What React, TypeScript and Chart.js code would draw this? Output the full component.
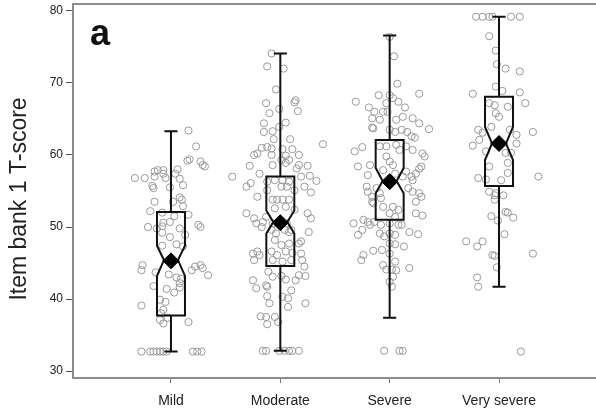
import { useEffect, useRef } from "react";
import { Chart, registerables } from "chart.js";

Chart.register(...registerables);

// Severity groups along the x axis
const categories = ["Mild", "Moderate", "Severe", "Very severe"];
const yTicks = [30, 40, 50, 60, 70, 80];

// Box-plot summaries per group
const whiskerLow = [32.7, 32.8, 37.4, 41.7];
const q1 = [37.7, 44.6, 51.0, 55.7];
const notchLow = [43.2, 49.1, 54.7, 59.3];
const median = [45.4, 50.7, 56.4, 61.6];
const notchHigh = [47.4, 52.3, 58.2, 63.9];
const q3 = [52.1, 57.0, 62.1, 68.1];
const whiskerHigh = [63.3, 74.1, 76.6, 79.2];
const means = [45.3, 50.6, 56.3, 61.6];

// Individual scores: [horizontal jitter (category units), T-score]
const mildPoints: [number, number][] = [
  [0.16, 63.4], [0.23, 61.2], [0.17, 59.4], [0.15, 59.2], [0.27, 59.1], [0.29, 58.6],
  [0.31, 58.4], [0.06, 58.0], [-0.12, 57.9], [-0.07, 57.9], [-0.15, 57.7], [-0.07, 57.4],
  [0.04, 57.4], [-0.33, 56.8], [-0.24, 56.8], [-0.15, 57.0], [-0.05, 56.8], [0.08, 56.7],
  [0.11, 55.8], [-0.17, 55.7], [-0.16, 55.4], [-0.01, 55.5], [-0.15, 53.5], [0.02, 53.5],
  [0.08, 54.1], [0.10, 53.8], [0.11, 52.9], [-0.19, 52.2], [-0.08, 52.0], [0.03, 51.5],
  [0.16, 51.7], [-0.21, 50.0], [-0.13, 49.8], [-0.08, 50.1], [-0.07, 50.6], [-0.01, 50.7],
  [0.08, 49.8], [0.13, 48.9], [-0.01, 48.6], [-0.08, 49.2], [0.25, 50.3], [0.27, 50.0],
  [-0.08, 47.4], [0.05, 47.6], [0.11, 47.3], [-0.26, 44.7], [-0.27, 44.0], [-0.14, 43.7],
  [-0.02, 43.4], [0.05, 43.0], [0.09, 42.8], [0.08, 42.2], [0.19, 44.0], [0.22, 44.5],
  [0.27, 44.7], [0.29, 44.3], [0.34, 43.3], [-0.16, 41.8], [-0.04, 41.4], [0.03, 40.9],
  [0.08, 41.6], [-0.27, 39.1], [-0.10, 39.9], [-0.05, 39.6], [-0.07, 38.5], [-0.09, 38.0],
  [0.16, 36.8], [-0.10, 37.1], [-0.07, 36.6], [-0.03, 37.4],
  [-0.27, 32.7], [-0.19, 32.7], [-0.16, 32.7], [-0.13, 32.7], [-0.10, 32.7], [-0.07, 32.7],
  [-0.04, 32.7], [0.20, 32.7], [0.24, 32.7], [0.28, 32.7],
];

const moderatePoints: [number, number][] = [
  [-0.08, 74.1], [-0.12, 72.3], [0.03, 72.0], [-0.04, 69.1], [0.14, 67.6], [0.13, 67.3],
  [-0.13, 67.2], [-0.01, 66.4], [0.16, 66.1], [-0.10, 65.8], [0.05, 64.5], [-0.15, 64.4],
  [-0.07, 63.3], [-0.01, 63.9], [-0.15, 63.2], [-0.06, 62.2], [0.09, 62.2], [0.39, 61.5],
  [-0.17, 61.0], [-0.12, 61.1], [-0.08, 60.9], [0.02, 60.8], [0.11, 60.8], [-0.24, 60.0],
  [-0.21, 60.2], [-0.08, 60.0], [0.05, 59.9], [0.17, 60.0], [0.01, 59.3], [-0.28, 58.5],
  [-0.07, 58.6], [0.05, 58.9], [0.08, 59.3], [0.15, 58.1], [0.17, 58.6], [0.25, 58.5],
  [-0.44, 57.0], [-0.19, 57.4], [0.19, 57.0], [0.27, 57.1], [0.33, 56.4], [-0.31, 55.6],
  [-0.27, 56.1], [-0.21, 54.2], [0.28, 54.8], [0.22, 55.6],
  [-0.12, 56.3], [-0.05, 56.5], [0.02, 56.5], [0.08, 56.3], [0.01, 55.6], [0.06, 55.6],
  [0.13, 55.1], [-0.12, 55.1], [-0.07, 53.8], [-0.03, 53.8], [0.02, 53.8], [0.08, 53.8],
  [-0.05, 52.6], [0.05, 52.8], [0.13, 52.4], [-0.13, 51.4], [-0.07, 50.5], [0.06, 50.5],
  [-0.08, 49.6], [0.10, 49.6], [-0.04, 49.1], [0.04, 49.6], [0.08, 49.3], [-0.05, 48.2],
  [0.01, 47.5], [0.08, 47.7], [-0.08, 46.6], [-0.03, 46.1], [0.05, 46.6], [0.11, 46.4],
  [-0.07, 45.4], [0.02, 45.2], [0.10, 45.4],
  [-0.31, 51.9], [-0.24, 51.2], [-0.22, 50.5], [-0.17, 50.0], [0.25, 51.9], [0.28, 51.2],
  [-0.16, 50.7], [0.26, 49.3], [-0.25, 46.3], [-0.21, 46.6], [-0.19, 46.1], [-0.24, 45.4],
  [0.19, 46.3], [0.20, 45.4], [0.17, 47.7], [0.19, 48.0], [0.22, 44.5], [0.23, 43.2],
  [0.17, 43.3], [0.14, 42.6], [-0.11, 43.8], [-0.07, 43.1], [0.01, 43.2], [0.05, 42.7],
  [-0.25, 42.6], [-0.22, 41.5], [-0.13, 41.9], [-0.12, 41.7], [0.10, 41.2], [0.02, 40.3],
  [-0.12, 40.4], [-0.10, 39.4], [0.07, 40.1], [0.07, 38.9], [0.23, 39.4], [-0.18, 37.6],
  [-0.13, 37.5], [-0.05, 37.5], [-0.02, 36.8], [-0.12, 36.5],
  [-0.16, 32.8], [-0.13, 32.8], [-0.01, 32.8], [0.04, 32.8], [0.08, 32.8], [0.11, 32.8],
  [0.17, 32.8],
];

const severePoints: [number, number][] = [
  [0.00, 76.4], [0.04, 73.7], [0.07, 69.9], [0.27, 68.5], [-0.31, 67.4], [-0.10, 68.3],
  [0.00, 68.3], [0.03, 67.9], [0.08, 67.4], [-0.03, 67.2], [-0.19, 66.6], [-0.14, 66.0],
  [-0.06, 66.0], [-0.02, 66.0], [0.14, 66.6], [-0.16, 65.1], [-0.09, 64.9], [0.06, 64.9],
  [0.12, 65.3], [0.21, 65.1], [0.27, 64.4], [0.36, 63.6], [-0.16, 63.8], [-0.15, 63.7],
  [0.00, 63.5], [0.05, 63.2], [0.11, 63.5], [0.16, 63.2], [0.20, 62.6], [0.23, 62.4],
  [-0.32, 60.5], [-0.25, 61.1], [-0.29, 58.4], [-0.18, 58.6], [-0.09, 61.2], [-0.03, 61.2],
  [0.06, 61.4], [0.09, 60.7], [0.15, 61.2], [0.21, 60.7], [0.30, 60.2], [0.32, 59.8],
  [0.29, 58.4], [0.24, 57.4], [0.27, 58.1], [0.20, 57.0], [0.21, 56.5], [-0.03, 59.8],
  [0.00, 59.1], [0.03, 58.6], [-0.06, 57.9], [0.05, 57.4], [0.12, 57.0], [0.15, 57.7],
  [-0.20, 57.2], [-0.21, 55.6], [-0.20, 54.9], [-0.16, 54.2], [-0.16, 53.5], [-0.15, 53.3],
  [-0.12, 55.4], [-0.09, 54.7], [-0.08, 54.0], [0.17, 55.4], [0.21, 54.9], [0.27, 54.7],
  [0.29, 54.2], [0.24, 53.5], [-0.06, 52.8], [0.03, 52.8], [0.08, 52.4], [0.00, 51.9],
  [0.05, 51.4], [0.24, 51.9], [0.30, 51.6], [-0.33, 50.5], [-0.24, 51.0], [-0.20, 50.7],
  [-0.14, 50.7], [-0.08, 50.3], [0.00, 50.5], [0.11, 50.3], [-0.29, 48.9], [-0.25, 49.6],
  [-0.18, 50.3], [-0.09, 49.1], [-0.05, 48.7], [0.00, 49.1], [0.05, 48.9], [0.08, 50.3],
  [0.18, 49.3], [0.26, 49.0], [-0.24, 46.1], [-0.26, 45.4], [-0.15, 46.7], [-0.07, 46.8],
  [0.00, 46.3], [0.00, 47.7], [0.05, 47.6], [0.13, 47.3], [-0.06, 44.7], [-0.03, 44.1],
  [0.02, 44.1], [0.06, 44.0], [0.05, 45.2], [0.18, 44.3], [0.03, 43.1], [0.00, 42.4],
  [0.02, 41.7],
  [-0.05, 32.8], [0.09, 32.8], [0.12, 32.8],
];

const verySeverePoints: [number, number][] = [
  [-0.21, 79.2], [-0.15, 79.2], [-0.09, 79.2], [-0.06, 79.2], [0.11, 79.2], [0.19, 79.2],
  [-0.09, 76.5], [-0.03, 74.5], [-0.02, 72.6], [0.06, 72.0], [0.19, 71.6], [-0.03, 69.5],
  [0.03, 68.9], [0.19, 68.7], [-0.24, 68.5], [0.24, 67.2], [-0.09, 67.2], [-0.04, 66.9],
  [0.08, 66.7], [-0.03, 65.8], [0.00, 65.3], [-0.19, 63.5], [-0.15, 63.1], [-0.18, 62.1],
  [-0.24, 61.3], [-0.07, 63.9], [0.10, 63.5], [0.16, 62.8], [0.16, 61.6], [0.31, 63.2],
  [-0.12, 60.5], [0.06, 60.3], [0.11, 60.3], [0.08, 58.9], [-0.09, 58.4], [0.08, 57.5],
  [-0.19, 56.8], [-0.12, 56.6], [0.02, 56.5], [0.36, 57.0], [-0.09, 54.9], [-0.03, 54.7],
  [-0.04, 54.4], [0.04, 54.4], [-0.04, 53.8], [-0.07, 51.5], [-0.01, 50.9], [0.06, 52.1],
  [0.08, 52.0], [0.13, 51.3], [0.05, 49.0], [-0.30, 48.0], [-0.20, 47.3], [-0.15, 48.0],
  [-0.06, 46.1], [-0.04, 46.0], [0.31, 46.3], [-0.02, 44.4], [-0.20, 43.0], [-0.19, 41.7],
  [0.20, 32.7],
];

const groupPoints = [mildPoints, moderatePoints, severePoints, verySeverePoints];

const FONT = "'Liberation Sans', Arial, Helvetica, sans-serif";
const BOX_HALF = 0.128; // half box width, category units
const CAP_HALF = 0.06; // half whisker-cap width, category units

// Notched boxes and whiskers, painted just before the mean markers
const boxPlugin = {
  id: "notchedBoxes",
  beforeDatasetDraw(chart: any, args: any) {
    if (args.index !== 0) return;
    const { ctx, scales } = chart;
    const xs = scales.x;
    const ys = scales.y;
    ctx.save();
    ctx.strokeStyle = "#111";
    ctx.lineWidth = 2;
    ctx.lineJoin = "miter";
    categories.forEach((_, i) => {
      const c = i + 1;
      const cx = xs.getPixelForValue(c);
      const l = xs.getPixelForValue(c - BOX_HALF);
      const r = xs.getPixelForValue(c + BOX_HALF);
      const inset = (r - l) * 0.25;
      const capL = xs.getPixelForValue(c - CAP_HALF);
      const capR = xs.getPixelForValue(c + CAP_HALF);
      const yQ1 = ys.getPixelForValue(q1[i]);
      const yQ3 = ys.getPixelForValue(q3[i]);
      const yMed = ys.getPixelForValue(median[i]);
      const yNL = ys.getPixelForValue(notchLow[i]);
      const yNH = ys.getPixelForValue(notchHigh[i]);
      const yWL = ys.getPixelForValue(whiskerLow[i]);
      const yWH = ys.getPixelForValue(whiskerHigh[i]);

      // whiskers
      ctx.beginPath();
      ctx.moveTo(cx, yQ3);
      ctx.lineTo(cx, yWH);
      ctx.moveTo(capL, yWH);
      ctx.lineTo(capR, yWH);
      ctx.moveTo(cx, yQ1);
      ctx.lineTo(cx, yWL);
      ctx.moveTo(capL, yWL);
      ctx.lineTo(capR, yWL);
      ctx.stroke();

      // notched box
      ctx.beginPath();
      ctx.moveTo(l, yQ3);
      ctx.lineTo(r, yQ3);
      ctx.lineTo(r, yNH);
      ctx.lineTo(r - inset, yMed);
      ctx.lineTo(r, yNL);
      ctx.lineTo(r, yQ1);
      ctx.lineTo(l, yQ1);
      ctx.lineTo(l, yNL);
      ctx.lineTo(l + inset, yMed);
      ctx.lineTo(l, yNH);
      ctx.closePath();
      ctx.stroke();
    });
    ctx.restore();
  },
  afterDraw(chart: any) {
    const { ctx, chartArea } = chart;
    ctx.save();
    // top frame line
    ctx.strokeStyle = "#8c8c8c";
    ctx.lineWidth = 2;
    ctx.beginPath();
    ctx.moveTo(chartArea.left - 1, chartArea.top);
    ctx.lineTo(chartArea.right, chartArea.top);
    ctx.stroke();
    // panel letter
    ctx.fillStyle = "#111";
    ctx.font = `bold 36px ${FONT}`;
    ctx.textAlign = "left";
    ctx.textBaseline = "alphabetic";
    ctx.fillText("a", 90, 45);
    // y-axis title
    ctx.translate(20, 199);
    ctx.rotate(-Math.PI / 2);
    ctx.fillStyle = "#222";
    ctx.font = `23px ${FONT}`;
    ctx.textAlign = "center";
    ctx.textBaseline = "middle";
    ctx.fillText("Item bank 1 T-score", 0, 0);
    ctx.restore();
  },
};

export default function App() {
  const canvasRef = useRef<HTMLCanvasElement | null>(null);

  useEffect(() => {
    if (!canvasRef.current) return;

    const scatterSets = groupPoints.map((pts, i) => ({
      type: "scatter" as const,
      label: categories[i],
      data: pts.map(([dx, v]) => ({ x: i + 1 + dx, y: v })),
      pointRadius: 3.6,
      pointHoverRadius: 3.6,
      pointBorderWidth: 1,
      pointBorderColor: "#999",
      pointBackgroundColor: "rgba(0,0,0,0)",
      showLine: false,
    }));

    const chart = new Chart(canvasRef.current, {
      type: "scatter",
      data: {
        datasets: [
          {
            type: "scatter" as const,
            label: "Mean",
            data: means.map((m, i) => ({ x: i + 1, y: m })),
            pointStyle: "rectRot",
            pointRadius: 8,
            pointHoverRadius: 8,
            pointBorderWidth: 1,
            pointBorderColor: "#000",
            pointBackgroundColor: "#000",
          },
          ...scatterSets,
        ],
      },
      options: {
        animation: false,
        responsive: false,
        devicePixelRatio: 1,
        layout: { autoPadding: false, padding: { top: 4, left: 0, right: 0, bottom: 0 } },
        plugins: {
          legend: { display: false },
          tooltip: { enabled: false },
          title: { display: false },
        },
        scales: {
          x: {
            type: "linear",
            min: 0.104,
            max: 4.887,
            afterFit: (scale: any) => {
              scale.height = 38;
              scale.paddingLeft = 0;
              scale.paddingRight = 0;
            },
            afterBuildTicks: (scale: any) => {
              scale.ticks = categories.map((_, i) => ({ value: i + 1 }));
            },
            ticks: {
              callback: (v: any) => categories[Number(v) - 1] ?? "",
              font: { family: FONT, size: 14 },
              color: "#222",
              padding: 10,
              maxRotation: 0,
              autoSkip: false,
            },
            grid: {
              drawOnChartArea: false,
              drawTicks: true,
              tickLength: 5,
              color: "#777",
              lineWidth: 1,
            },
            border: { display: true, color: "#8c8c8c", width: 2 },
          },
          y: {
            type: "linear",
            min: 29.03,
            max: 80.97,
            afterFit: (scale: any) => {
              scale.width = 73;
              scale.paddingTop = 0;
              scale.paddingBottom = 0;
            },
            afterBuildTicks: (scale: any) => {
              scale.ticks = yTicks.map((v) => ({ value: v }));
            },
            ticks: {
              font: { family: FONT, size: 12 },
              color: "#222",
              padding: 3,
            },
            grid: {
              drawOnChartArea: false,
              drawTicks: true,
              tickLength: 7,
              color: "#555",
              lineWidth: 1,
            },
            border: { display: true, color: "#8c8c8c", width: 2 },
          },
        },
      },
      plugins: [boxPlugin],
    });

    return () => chart.destroy();
  }, []);

  return (
    <div style={{ position: "absolute", left: 0, top: 0, width: 596, height: 416, background: "#fff" }}>
      <canvas ref={canvasRef} width={596} height={416} />
    </div>
  );
}
